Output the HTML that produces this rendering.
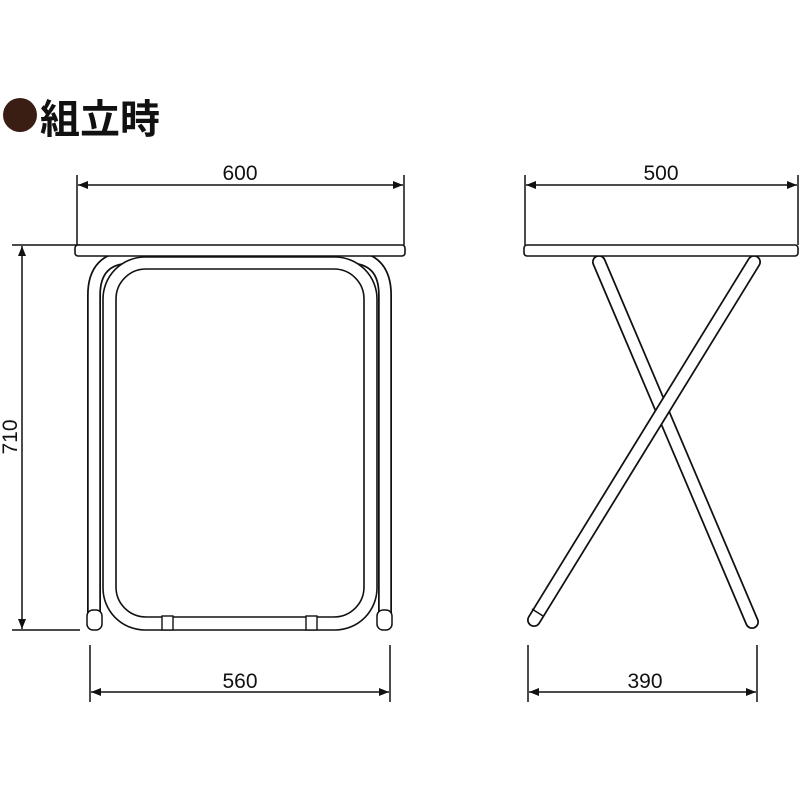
<!DOCTYPE html>
<html><head><meta charset="utf-8"><style>
html,body{margin:0;padding:0;background:#fff;}
svg{display:block}
text{font-family:"Liberation Sans","Noto Sans CJK JP",sans-serif;fill:#111}
</style></head><body>
<svg width="800" height="800" viewBox="0 0 800 800" xmlns="http://www.w3.org/2000/svg">
<defs>
<marker id="a" viewBox="0 0 10 10" refX="10" refY="5" markerWidth="10" markerHeight="10" orient="auto-start-reverse" markerUnits="userSpaceOnUse"><path d="M0,1 L10,5 L0,9 z" fill="#111"/></marker>
</defs>
<circle cx="20" cy="115" r="17" fill="#3a1e14"/>
<text x="40" y="133" font-size="40" font-weight="bold">組立時</text>

<g stroke="#111" stroke-width="1.5" fill="none">
<line x1="77" y1="175" x2="77" y2="245"/><line x1="404" y1="175" x2="404" y2="245"/>
<line x1="78" y1="185" x2="403" y2="185" marker-start="url(#a)" marker-end="url(#a)"/>
<line x1="12" y1="245" x2="80" y2="245"/><line x1="12" y1="630" x2="80" y2="630"/>
<line x1="22" y1="246" x2="22" y2="629" marker-start="url(#a)" marker-end="url(#a)"/>
<line x1="90" y1="645" x2="90" y2="702"/><line x1="390" y1="645" x2="390" y2="702"/>
<line x1="91" y1="692" x2="389" y2="692" marker-start="url(#a)" marker-end="url(#a)"/>
<line x1="525" y1="175" x2="525" y2="245"/><line x1="798" y1="175" x2="798" y2="245"/>
<line x1="526" y1="185" x2="797" y2="185" marker-start="url(#a)" marker-end="url(#a)"/>
<line x1="528" y1="645" x2="528" y2="702"/><line x1="757" y1="645" x2="757" y2="702"/>
<line x1="529" y1="692" x2="756" y2="692" marker-start="url(#a)" marker-end="url(#a)"/>
</g>
<text x="240" y="180" font-size="21" text-anchor="middle">600</text>
<text x="661" y="180" font-size="21" text-anchor="middle">500</text>
<text x="240" y="688" font-size="21" text-anchor="middle">560</text>
<text x="645" y="688" font-size="21" text-anchor="middle">390</text>
<text x="0" y="0" font-size="21" text-anchor="middle" transform="translate(17,437) rotate(-90)">710</text>

<path d="M94,615 V295 Q94,258 130,257 H350 Q385,258 385,295 V615" fill="none" stroke="#111" stroke-width="14"/>
<path d="M94,615 V295 Q94,258 130,257 H350 Q385,258 385,295 V615" fill="none" stroke="#fff" stroke-width="10.5"/>
<rect x="87" y="610" width="15" height="20" rx="6" fill="#fff" stroke="#111" stroke-width="1.5"/>
<rect x="377" y="610" width="15" height="20" rx="6" fill="#fff" stroke="#111" stroke-width="1.5"/>
<rect x="103" y="257" width="274" height="373" rx="42" fill="#fff" stroke="#111" stroke-width="1.6"/>
<rect x="116" y="269" width="248" height="348" rx="30" fill="#fff" stroke="#111" stroke-width="1.6"/>
<rect x="162" y="616" width="11" height="14" fill="#fff" stroke="#111" stroke-width="1.4"/>
<rect x="306" y="616" width="11" height="14" fill="#fff" stroke="#111" stroke-width="1.4"/>
<rect x="75" y="245" width="330" height="11" rx="3" fill="#fff" stroke="#111" stroke-width="1.6"/>

<g fill="none" stroke-linecap="round">
<line x1="599" y1="262" x2="752" y2="622" stroke="#111" stroke-width="14"/>
<line x1="599" y1="262" x2="752" y2="622" stroke="#fff" stroke-width="10.5"/>
<line x1="754" y1="262" x2="534" y2="620" stroke="#111" stroke-width="14"/>
<line x1="754" y1="262" x2="534" y2="620" stroke="#fff" stroke-width="10.5"/>
</g>
<line x1="532" y1="609" x2="543" y2="616" stroke="#111" stroke-width="1.4"/>
<rect x="524" y="245" width="274" height="11" rx="3" fill="#fff" stroke="#111" stroke-width="1.6"/>
</svg>
</body></html>
